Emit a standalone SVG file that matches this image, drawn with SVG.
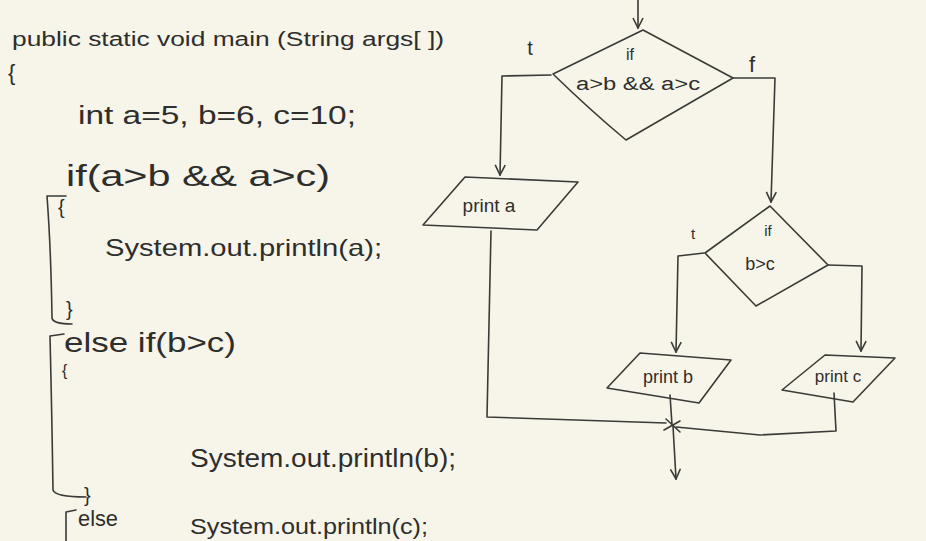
<svg xmlns="http://www.w3.org/2000/svg" width="926" height="541" viewBox="0 0 926 541">
<style>
.bg{fill:#f7f5ea}
.ink{fill:none;stroke:#3a3a38;stroke-width:1.6;stroke-linecap:round;stroke-linejoin:round}
.code{font-family:"Liberation Sans","DejaVu Sans",sans-serif;fill:#2e2e2c}
.lbl{font-family:"Liberation Sans","DejaVu Sans",sans-serif;fill:#2e2e2c;text-anchor:middle}
</style>
<defs>
<marker id="arr" viewBox="0 0 12 12" refX="11" refY="6" markerWidth="12" markerHeight="12" markerUnits="userSpaceOnUse" orient="auto">
<path d="M1,1 L11,6 L1,11" fill="none" stroke="#3a3a38" stroke-width="1.6"/>
</marker>
</defs>
<rect class="bg" x="0" y="0" width="926" height="541"/>

<g id="code">
<text class="code" x="12" y="46" font-size="20" textLength="432" lengthAdjust="spacingAndGlyphs">public static void main (String args[ ])</text>
<text class="code" x="8" y="80" font-size="22">{</text>
<text class="code" x="78" y="124" font-size="26" textLength="278" lengthAdjust="spacingAndGlyphs">int  a=5, b=6, c=10;</text>
<text class="code" x="66" y="186" font-size="30" textLength="264" lengthAdjust="spacingAndGlyphs">if(a&gt;b &amp;&amp; a&gt;c)</text>
<text class="code" x="58" y="214" font-size="20">{</text>
<text class="code" x="105" y="256" font-size="24" textLength="277" lengthAdjust="spacingAndGlyphs">System.out.println(a);</text>
<text class="code" x="66" y="316" font-size="20">}</text>
<text class="code" x="64" y="352" font-size="28" textLength="172" lengthAdjust="spacingAndGlyphs">else if(b&gt;c)</text>
<text class="code" x="62" y="376" font-size="16">{</text>
<text class="code" x="190" y="467" font-size="26" textLength="266" lengthAdjust="spacingAndGlyphs">System.out.println(b);</text>
<text class="code" x="84" y="502" font-size="20">}</text>
<text class="code" x="78" y="526" font-size="22" textLength="40" lengthAdjust="spacingAndGlyphs">else</text>
<text class="code" x="190" y="534" font-size="22" textLength="238" lengthAdjust="spacingAndGlyphs">System.out.println(c);</text>
<path class="ink" d="M66,196 L47,196 Q51,250 52,318 Q53,324 72,324"/>
<path class="ink" d="M64,334 L50,336 Q52,420 53,490 Q55,497 86,497"/>
<path class="ink" d="M76,510 L66,512 L66,541"/>
</g>

<g id="connectors">
<path class="ink" d="M638,0 L638,28" marker-end="url(#arr)"/>
<path class="ink" d="M551,75 L502,76 L500,175" marker-end="url(#arr)"/>
<path class="ink" d="M733,78 L775,78 L771,202" marker-end="url(#arr)"/>
<path class="ink" d="M491,231 L487,417 L666,423"/>
<path class="ink" d="M704,253 L678,256 L676,352" marker-end="url(#arr)"/>
<path class="ink" d="M828,265 L862,266 L861,351" marker-end="url(#arr)"/>
<path class="ink" d="M670,395 L672,425"/>
<path class="ink" d="M834,393 L836,431 L760,435 L676,427"/>
<path class="ink" d="M666,419 L680,432 M680,421 L664,430"/>
<path class="ink" d="M673,426 L676,479" marker-end="url(#arr)"/>
<text class="lbl" x="530" y="55" font-size="20">t</text>
<text class="lbl" x="752" y="72" font-size="22">f</text>
<text class="lbl" x="693" y="239" font-size="15">t</text>
</g>

<g id="d1">
<path class="ink" d="M643,30 L553,74 Q590,110 626,140 L733,78 L643,30"/>
<text class="lbl" x="630" y="60" font-size="16">if</text>
<text class="lbl" x="638" y="90" font-size="18" textLength="124" lengthAdjust="spacingAndGlyphs">a&gt;b &amp;&amp; a&gt;c</text>
</g>

<g id="p1">
<path class="ink" d="M465,177 L578,182 L537,230 L423,225 Z"/>
<text class="lbl" x="489" y="212" font-size="19">print a</text>
</g>

<g id="d2">
<path class="ink" d="M770,206 L705,253 L756,306 L828,265 Z"/>
<text class="lbl" x="768" y="236" font-size="15">if</text>
<text class="lbl" x="760" y="270" font-size="18">b&gt;c</text>
</g>

<g id="p2">
<path class="ink" d="M640,353 L731,360 L699,403 L607,388 Z"/>
<text class="lbl" x="668" y="383" font-size="18">print b</text>
</g>

<g id="p3">
<path class="ink" d="M825,355 L895,358 L853,402 L782,390 Z"/>
<text class="lbl" x="838" y="382" font-size="17">print c</text>
</g>
</svg>
